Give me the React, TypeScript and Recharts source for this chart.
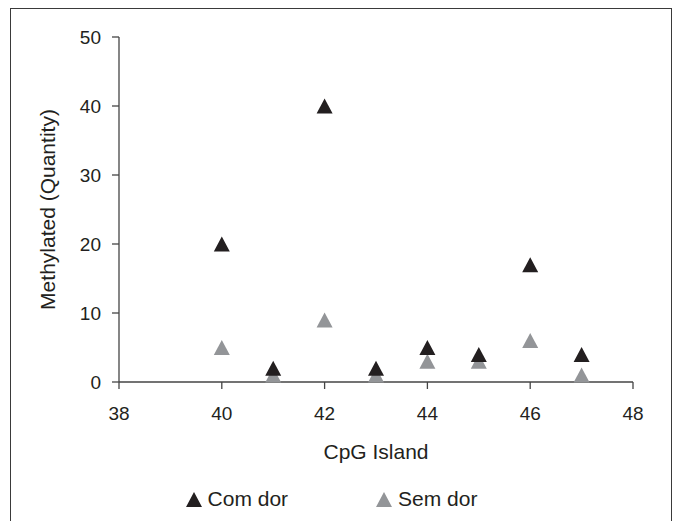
import React from "react";
import {
  ScatterChart,
  Scatter,
  XAxis,
  YAxis,
  Legend,
} from "recharts";

const comDorX = [40, 41, 42, 43, 44, 45, 46, 47];
const comDorY = [20, 2, 40, 2, 5, 4, 17, 4];
const semDorX = [40, 41, 42, 43, 44, 45, 46, 47];
const semDorY = [5, 1, 9, 1, 3, 3, 6, 1];
const xTicks = [38, 40, 42, 44, 46, 48];
const yTicks = [0, 10, 20, 30, 40, 50];

const comDor = comDorX.map((x, i) => ({ x, y: comDorY[i] }));
const semDor = semDorX.map((x, i) => ({ x, y: semDorY[i] }));

const BLACK = "#231f20";
const GRAY = "#939598";
const FONT = '"Liberation Sans", Arial, Helvetica, sans-serif';

const Triangle = (props: any) => {
  const { cx, cy, fill } = props;
  const w = 16;
  const h = 15;
  return (
    <polygon
      points={`${cx},${cy - h / 2} ${cx - w / 2},${cy + h / 2} ${cx + w / 2},${cy + h / 2}`}
      fill={fill}
    />
  );
};

const legendItems = [
  { name: "Com dor", color: BLACK },
  { name: "Sem dor", color: GRAY },
];

const LegendContent = () => (
  <div
    style={{
      display: "flex",
      justifyContent: "center",
      alignItems: "center",
      height: 40,
      fontFamily: FONT,
      fontSize: 21,
      color: BLACK,
    }}
  >
    {legendItems.map((item, i) => (
      <div
        key={item.name}
        style={{ display: "flex", alignItems: "center", marginLeft: i ? 88 : 0 }}
      >
        <svg width={16} height={15} style={{ marginRight: 6 }}>
          <polygon points="8,0 0,15 16,15" fill={item.color} />
        </svg>
        <span>{item.name}</span>
      </div>
    ))}
  </div>
);

export default function App() {
  return (
    <div
      style={{
        position: "absolute",
        left: 0,
        top: 0,
        width: 673,
        height: 521,
        overflow: "hidden",
        background: "#fff",
      }}
    >
      <div
        style={{
          position: "absolute",
          left: 10,
          top: 8,
          width: 660,
          height: 540,
          border: "1.5px solid #3a3a3a",
          pointerEvents: "none",
        }}
      />
      <ScatterChart
        width={673}
        height={521}
        margin={{ top: 37, right: 40, bottom: 2, left: 30 }}
      >
        <XAxis
          type="number"
          dataKey="x"
          domain={[38, 48]}
          ticks={xTicks}
          tickSize={7}
          tickMargin={18}
          height={97}
          stroke="#444"
          strokeWidth={1.3}
          tick={{ fill: BLACK, fontSize: 19, fontFamily: FONT }}
          label={{
            value: "CpG Island",
            position: "insideBottom",
            offset: 20,
            style: { fill: BLACK, fontSize: 21, fontFamily: FONT },
          }}
        />
        <YAxis
          type="number"
          dataKey="y"
          domain={[0, 50]}
          ticks={yTicks}
          tickSize={7}
          tickMargin={11}
          width={89}
          stroke="#444"
          strokeWidth={1.3}
          tick={{ fill: BLACK, fontSize: 19, fontFamily: FONT }}
          label={{
            value: "Methylated (Quantity)",
            angle: -90,
            position: "insideLeft",
            offset: 18,
            style: { fill: BLACK, fontSize: 21, fontFamily: FONT, textAnchor: "middle" },
          }}
        />
        <Legend verticalAlign="bottom" height={40} content={<LegendContent />} />
        <Scatter
          name="Sem dor"
          data={semDor}
          fill={GRAY}
          shape={<Triangle />}
          isAnimationActive={false}
        />
        <Scatter
          name="Com dor"
          data={comDor}
          fill={BLACK}
          shape={<Triangle />}
          isAnimationActive={false}
        />
      </ScatterChart>
    </div>
  );
}
